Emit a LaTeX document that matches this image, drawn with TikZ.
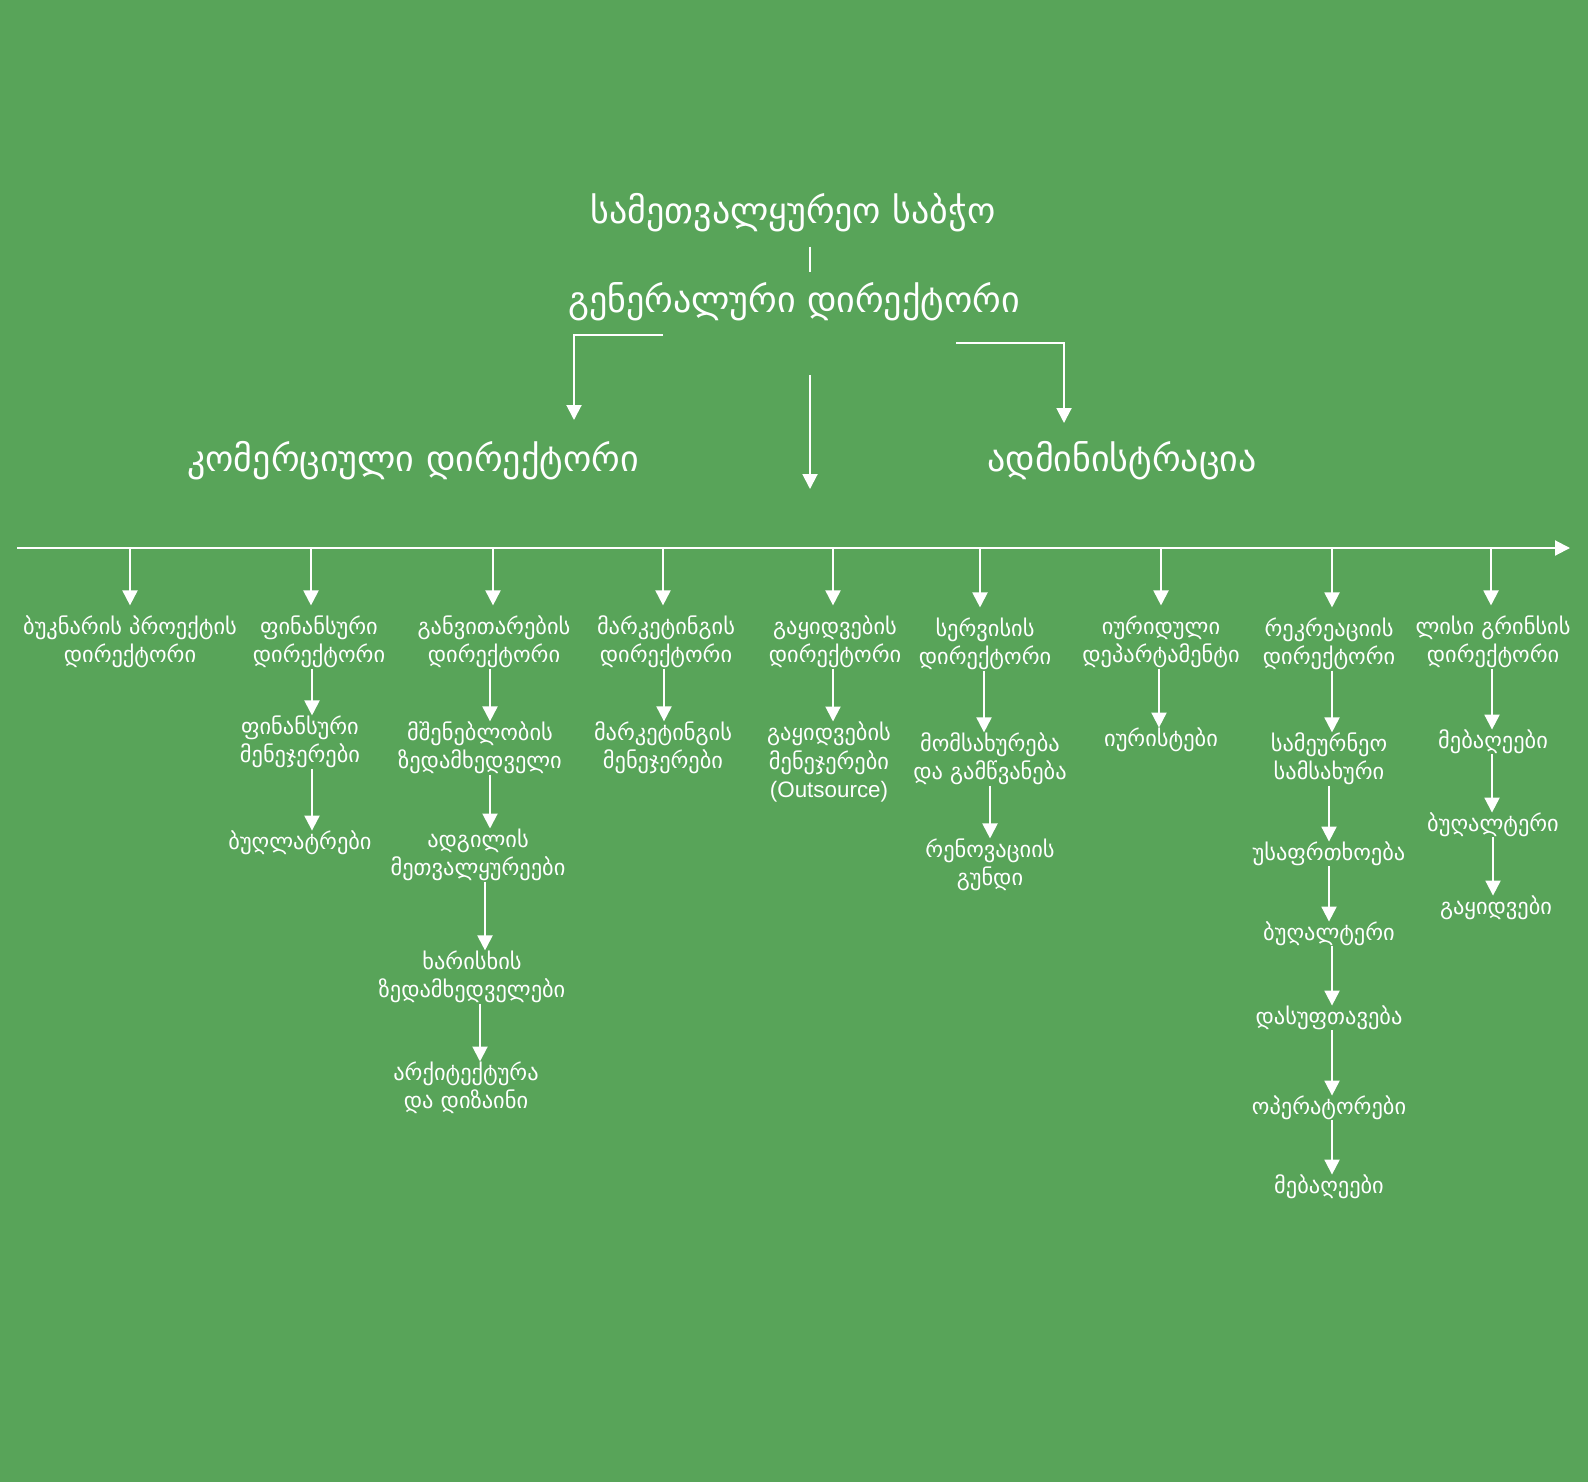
\documentclass[tikz,border=0pt]{standalone}
\usepackage{fontspec}
\setmainfont[Script=Georgian]{DejaVu Sans}
\newfontfamily\arialf{Liberation Sans}
\usetikzlibrary{arrows.meta}
\definecolor{bg}{RGB}{88,164,89}
\tikzset{
  big/.style={text=white, font=\fontsize{18}{21}\selectfont, inner sep=0pt},
  sm/.style={text=white, font=\fontsize{11.2}{14.2}\selectfont, align=center, inner sep=0pt},
  arr/.style={white, line width=1pt, -{Triangle[width=7.5pt,length=7.5pt]}},
  ln/.style={white, line width=1pt},
}
\begin{document}
\begin{tikzpicture}[x=0.5pt,y=-0.5pt]
\fill[bg] (0,0) rectangle (1588,1482);
\useasboundingbox (0,0) rectangle (1588,1482);
% top
\node[big] (board) at (793,213) {სამეთვალყურეო საბჭო};
\node[big] (gd) at (794,302) {გენერალური დირექტორი};
\draw[white, line width=0.6pt, shorten <=7pt, shorten >=5pt] (board.south -| 810,0) -- (gd.north -| 810,0);
\node[big] (comm) at (413,461) {კომერციული დირექტორი};
\node[big] (admin) at (1122,461) {ადმინისტრაცია};
\coordinate (gdL) at (663,335);
\coordinate (cmT) at (574,420);
\coordinate (gdC) at (810,375);
\coordinate (ctT) at (810,489);
\coordinate (gdR) at (956,343);
\coordinate (adT) at (1064,423);
\draw[arr] (gdL) -| (cmT);
\draw[arr] (gdC) -- (ctT);
\draw[arr] (gdR) -| (adT);
% main line
\coordinate (ml) at (17,548);
\coordinate (mr) at (1570,548);
\draw[arr] (ml) -- (mr);
% level 1
\node[sm] (n1) at (130,642) {ბუკნარის პროექტის\\დირექტორი};
\node[sm] (n2) at (319,642) {ფინანსური\\დირექტორი};
\node[sm] (n3) at (494,642) {განვითარების\\დირექტორი};
\node[sm] (n4) at (666,642) {მარკეტინგის\\დირექტორი};
\node[sm] (n5) at (835,642) {გაყიდვების\\დირექტორი};
\node[sm] (n6) at (985,644) {სერვისის\\დირექტორი};
\node[sm] (n7) at (1161,642) {იურიდული\\დეპარტამენტი};
\node[sm] (n8) at (1329,644) {რეკრეაციის\\დირექტორი};
\node[sm] (n9) at (1493,642) {ლისი გრინსის\\დირექტორი};
\foreach \n/\x in {n1/130,n2/311,n3/493,n4/663,n5/833,n6/980,n7/1161,n8/1332,n9/1491}
  \draw[arr, shorten >=5pt] (ml -| \x,0) -- (\n.north -| \x,0);
% column 2
\node[sm] (n2a) at (300,742) {ფინანსური\\მენეჯერები};
\node[sm] (n2b) at (300,843) {ბუღლატრები};
\draw[arr] (n2.south -| 312,0) -- (n2a.north -| 312,0);
\draw[arr] (n2a.south -| 312,0) -- (n2b.north -| 312,0);
% column 3
\node[sm] (n3a) at (480,748) {მშენებლობის\\ზედამხედველი};
\node[sm] (n3b) at (478,855) {ადგილის\\მეთვალყურეები};
\node[sm] (n3c) at (472,977) {ხარისხის\\ზედამხედველები};
\node[sm] (n3d) at (466,1088) {არქიტექტურა\\და დიზაინი};
\draw[arr] (n3.south -| 490,0) -- (n3a.north -| 490,0);
\draw[arr] (n3a.south -| 490,0) -- (n3b.north -| 490,0);
\draw[arr] (n3b.south -| 485,0) -- (n3c.north -| 485,0);
\draw[arr] (n3c.south -| 480,0) -- (n3d.north -| 480,0);
% column 4
\node[sm] (n4a) at (663,748) {მარკეტინგის\\მენეჯერები};
\draw[arr] (n4.south -| 664,0) -- (n4a.north -| 664,0);
% column 5
\node[sm] (n5a) at (829,762) {გაყიდვების\\მენეჯერები\\{\arialf (Outsource)}};
\draw[arr] (n5.south -| 833,0) -- (n5a.north -| 833,0);
% column 6
\node[sm] (n6a) at (990,759) {მომსახურება\\და გამწვანება};
\node[sm] (n6b) at (990,865) {რენოვაციის\\გუნდი};
\draw[arr] (n6.south -| 984,0) -- (n6a.north -| 984,0);
\draw[arr] (n6a.south -| 990,0) -- (n6b.north -| 990,0);
% column 7
\node[sm] (n7a) at (1161,740) {იურისტები};
\draw[arr] (n7.south -| 1159,0) -- (n7a.north -| 1159,0);
% column 8
\node[sm] (n8a) at (1329,759) {სამეურნეო\\სამსახური};
\node[sm] (n8b) at (1329,854) {უსაფრთხოება};
\node[sm] (n8c) at (1329,934) {ბუღალტერი};
\node[sm] (n8d) at (1329,1018) {დასუფთავება};
\node[sm] (n8e) at (1329,1108) {ოპერატორები};
\node[sm] (n8f) at (1329,1187) {მებაღეები};
\draw[arr] (n8.south -| 1332,0) -- (n8a.north -| 1332,0);
\draw[arr] (n8a.south -| 1329,0) -- (n8b.north -| 1329,0);
\draw[arr] (n8b.south -| 1329,0) -- (n8c.north -| 1329,0);
\draw[arr] (n8c.south -| 1332,0) -- (n8d.north -| 1332,0);
\draw[arr] (n8d.south -| 1332,0) -- (n8e.north -| 1332,0);
\draw[arr] (n8e.south -| 1332,0) -- (n8f.north -| 1332,0);
% column 9
\node[sm] (n9a) at (1493,742) {მებაღეები};
\node[sm] (n9b) at (1493,825) {ბუღალტერი};
\node[sm] (n9c) at (1496,908) {გაყიდვები};
\draw[arr] (n9.south -| 1492,0) -- (n9a.north -| 1492,0);
\draw[arr] (n9a.south -| 1492,0) -- (n9b.north -| 1492,0);
\draw[arr] (n9b.south -| 1493,0) -- (n9c.north -| 1493,0);
\end{tikzpicture}
\end{document}
